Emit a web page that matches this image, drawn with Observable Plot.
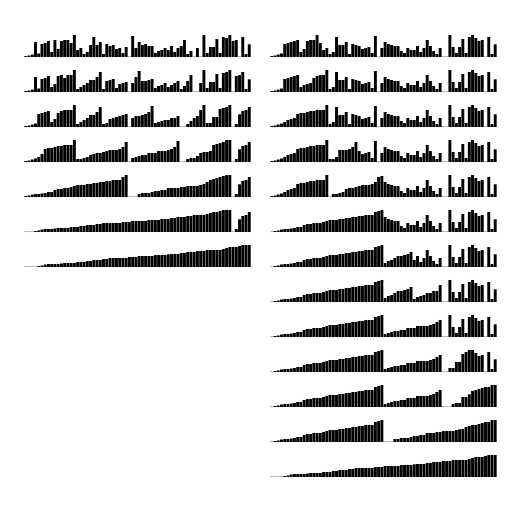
<!DOCTYPE html>
<html><head><meta charset="utf-8">
<script src="https://cdn.jsdelivr.net/npm/d3@7"></script>
<script src="https://cdn.jsdelivr.net/npm/@observablehq/plot@0.6"></script>
<style>body{margin:0;background:#fff}</style>
</head><body><div id="chart"></div>
<script>
// initial (unsorted) array, 70 values
const initial = [1,1.5,2.5,15,3.5,13,14,16,17,5,8,16,17,17,22,14,7,9,3,5,20,12,12,15,3,13,12,11,8,9,10,4,21,0.3,9,15,13,12,11,11,6,4,9,7,7,11,5,9,17,11,6,3,9,0.3,0.3,22,10,4,10,18,4,20,22,19,16,17,0.3,20,3,12.7];
const methods = ["bottom-up", "top-down"];
const minShownMerge = 9;

function merge(a, lo, mid, hi) {
  const left = a.slice(lo, mid), right = a.slice(mid, hi);
  let i = 0, j = 0, k = lo;
  while (i < left.length && j < right.length) a[k++] = left[i] <= right[j] ? left[i++] : right[j++];
  while (i < left.length) a[k++] = left[i++];
  while (j < right.length) a[k++] = right[j++];
}
function bottomUp(a0) {
  const a = a0.slice(), n = a.length, rows = [];
  for (let w = 1; w < n; w *= 2) {
    for (let i = 0; i < n; i += 2 * w) merge(a, i, Math.min(i + w, n), Math.min(i + 2 * w, n));
    rows.push(a.slice());
  }
  return rows;
}
function topDown(a0) {
  const a = a0.slice(), rows = [];
  (function sort(lo, hi) {
    if (hi - lo < 2) return;
    const mid = lo + Math.ceil((hi - lo) / 2);
    sort(lo, mid); sort(mid, hi); merge(a, lo, mid, hi);
    if (hi - lo >= minShownMerge) rows.push(a.slice());
  })(0, a.length);
  return rows;
}
const table = [];
[bottomUp(initial), topDown(initial)].forEach((rows, m) =>
  rows.forEach((row, r) => row.forEach((v, i) => table.push({method: methods[m], row: r, i, v}))));

const chart = Plot.plot({
  width: 512, height: 512,
  margin: 0,
  facet: {margin: 0},
  x: {axis: null, padding: 0.1, round: false},
  y: {axis: null, domain: [0, d3.max(initial)]},
  fx: {axis: null, domain: methods, range: [24, 497], paddingInner: 0.077, paddingOuter: 0, round: false},
  fy: {axis: null, domain: d3.range(13), range: [35, 477], paddingInner: 0.371, paddingOuter: 0, round: false},
  marks: [Plot.barY(table, {x: "i", y: "v", fx: "method", fy: "row", fill: "black"})]
});
document.getElementById("chart").append(chart);
</script>
</body></html>
